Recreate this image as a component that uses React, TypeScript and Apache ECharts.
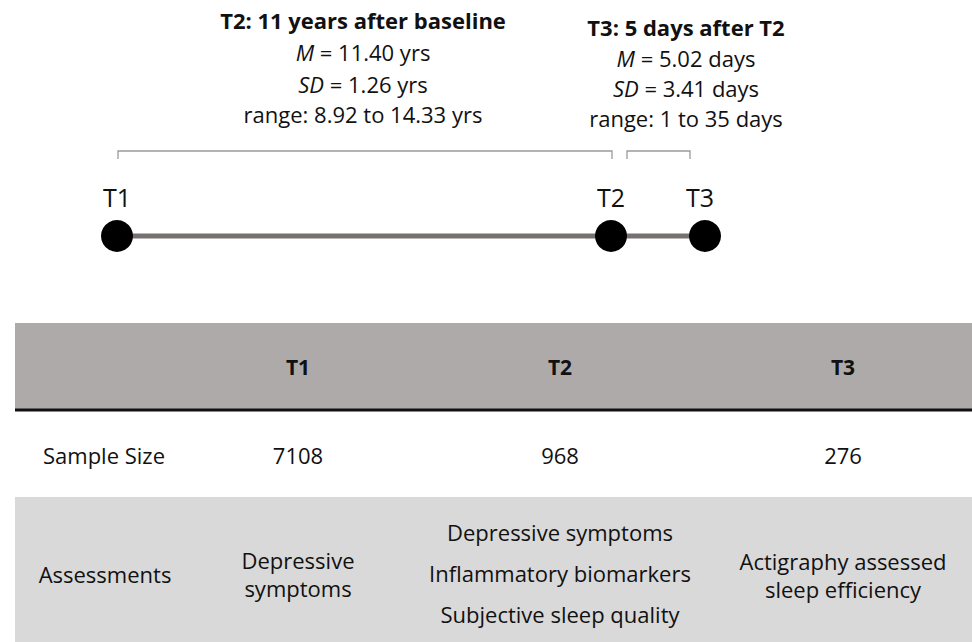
import React, { useEffect, useRef } from "react";
import * as echarts from "echarts";

const timePoints = ["T1", "T2", "T3"];
const t2Info = ["T2: 11 years after baseline", "{i|M} = 11.40 yrs", "{i|SD} = 1.26 yrs", "range: 8.92 to 14.33 yrs"];
const t3Info = ["T3: 5 days after T2", "{i|M} = 5.02 days", "{i|SD} = 3.41 days", "range: 1 to 35 days"];
const rowLabels = ["Sample Size", "Assessments"];
const sampleSizes = ["7108", "968", "276"];
const assessments = [
  ["Depressive", "symptoms"],
  ["Depressive symptoms", "Inflammatory biomarkers", "Subjective sleep quality"],
  ["Actigraphy assessed", "sleep efficiency"],
];

const FONT = "'Open Sans', Lato, sans-serif";

export default function App() {
  const ref = useRef<HTMLDivElement>(null);
  useEffect(() => {
    const chart = echarts.init(ref.current!, null, { renderer: "svg" });
    const els: any[] = [];
    const txt = (text: string, x: number, y: number, size: number, bold = false, extra: any = {}) =>
      els.push({
        type: "text",
        x,
        y,
        style: {
          text,
          fontFamily: FONT,
          fontSize: size,
          fontWeight: bold ? "bold" : "normal",
          fill: "#111",
          align: "center",
          verticalAlign: "middle",
          rich: { i: { fontStyle: "italic", fontFamily: FONT, fontSize: size, fill: "#111" } },
          ...extra,
        },
      });

    // info blocks
    const t2Y = [20, 52, 84, 114];
    t2Info.forEach((s, k) => txt(s, 363, t2Y[k], 22, k === 0));
    const t3Y = [27, 58, 88, 118];
    t3Info.forEach((s, k) => txt(s, 686, t3Y[k], 22, k === 0));

    // brackets
    const bracket = (x1: number, x2: number) =>
      els.push({
        type: "polyline",
        shape: { points: [[x1, 159], [x1, 151], [x2, 151], [x2, 159]] },
        style: { stroke: "#9a9a9a", lineWidth: 1.3, fill: null },
      });
    bracket(118, 612);
    bracket(627, 690);

    // timeline
    const px = [117, 611, 705];
    const labelX = [117, 611, 700];
    els.push({
      type: "line",
      shape: { x1: px[0], y1: 236, x2: px[2], y2: 236 },
      style: { stroke: "#767171", lineWidth: 5 },
    });
    timePoints.forEach((t, k) => {
      els.push({ type: "circle", shape: { cx: px[k], cy: 236, r: 16 }, style: { fill: "#000" } });
      txt(t, labelX[k], 197, 25);
    });

    // table
    els.push({ type: "rect", shape: { x: 15, y: 323, width: 957, height: 87 }, style: { fill: "#aeaaaa" } });
    els.push({ type: "line", shape: { x1: 15, y1: 410, x2: 972, y2: 410 }, style: { stroke: "#111", lineWidth: 3 } });
    els.push({ type: "rect", shape: { x: 15, y: 497, width: 957, height: 145 }, style: { fill: "#d9d9d9" } });
    const colX = [298, 560, 843];
    timePoints.forEach((t, k) => txt(t, colX[k], 367, 21, true));
    txt(rowLabels[0], 104, 455, 22);
    sampleSizes.forEach((s, k) => txt(s, colX[k], 455, 22));
    txt(rowLabels[1], 105, 574, 22);
    txt(assessments[0].join("\n"), colX[0], 574, 22, false, { lineHeight: 28 });
    txt(assessments[1].join("\n"), colX[1], 573, 22, false, { lineHeight: 41 });
    txt(assessments[2].join("\n"), colX[2], 575, 22, false, { lineHeight: 28 });

    chart.setOption({ animation: false, graphic: { elements: els } });
    return () => chart.dispose();
  }, []);
  return (
    <div
      ref={ref}
      style={{ position: "fixed", left: 0, top: 0, width: 972, height: 642, background: "#fff" }}
    />
  );
}
